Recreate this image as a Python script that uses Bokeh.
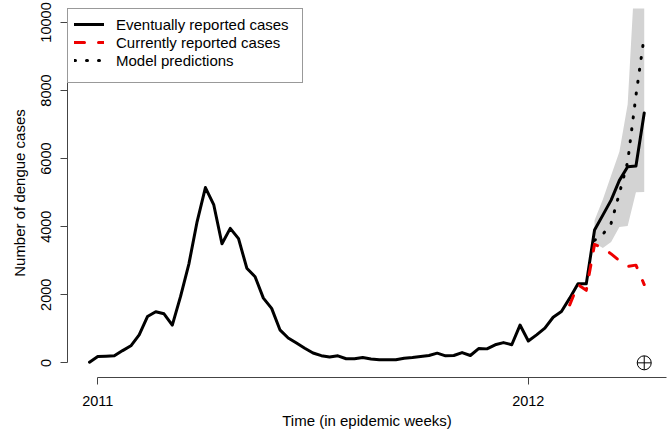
from bokeh.plotting import figure
from bokeh.models import FixedTicker, Legend, LegendItem, Range1d
from bokeh.embed import file_html
from bokeh.resources import INLINE

# ---- data ----
week_index = list(range(68))  # 0 = last week of 2010, 1 = week 1 of 2011, 53 = week 1 of 2012
eventual = [20, 185, 195, 205, 360, 500, 820, 1360, 1500, 1440,
            1110, 1950, 2900, 4150, 5150, 4650, 3500, 3950, 3650, 2780,
            2530, 1900, 1600, 970, 730, 580, 430, 290, 210, 170,
            205, 120, 120, 155, 115, 90, 90, 90, 135, 155,
            185, 215, 285, 205, 215, 300, 215, 420, 410, 530,
            595, 530, 1110, 640, 820, 1020, 1340, 1510, 1900, 2320,
            2320, 3900, 4340, 4780, 5360, 5760, 5780, 7340]

current_weeks = list(range(58, 68))
current = [1700, 2300, 2130, 3480, 3380, 3200, 3000, 2830, 2870, 2300]

pred_weeks = list(range(61, 68))
pred = [3600, 3770, 4100, 4980, 5900, 7850, 9600]
pred_lower = [3520, 3370, 3550, 3990, 4020, 5010, 5020]
pred_upper = [4190, 4800, 5500, 6200, 7600, 12000, 14000]

last_week = [67]
last_week_level = [0]

year_tick_weeks = [1, 53]
year_tick_labels = ["2011", "2012"]
y_ticks = [0, 2000, 4000, 6000, 8000, 10000]

FONT = "Liberation Sans"

p = figure(width=669, height=431, output_backend="svg", toolbar_location=None,
           x_range=Range1d(-2.657, 69.69), y_range=Range1d(-431, 10410),
           min_border_left=67, min_border_right=3, min_border_top=8,
           min_border_bottom=53)
p.outline_line_color = None
p.xgrid.visible = False
p.ygrid.visible = False
p.background_fill_color = "white"
p.border_fill_color = "white"

p.varea(x=pred_weeks, y1=pred_lower, y2=pred_upper,
        fill_color="#d3d3d3", fill_alpha=1.0)

r_event = p.line(week_index, eventual, line_color="black", line_width=3,
                 line_join="round", line_cap="round")
r_curr = p.line(current_weeks, current, line_color="#ee0000", line_width=3,
                line_dash="10 14", line_cap="round", line_join="round")
r_pred = p.line(pred_weeks, pred, line_color="black", line_width=3,
                line_dash="1 11", line_cap="round")
p.scatter(last_week, last_week_level, marker="circle_cross", size=14,
          fill_color=None, line_color="black", line_width=1)

# axes
for ax in (p.xaxis[0], p.yaxis[0]):
    ax.axis_line_color = "#444444"
    ax.axis_line_width = 1
    ax.major_tick_line_color = "#444444"
    ax.major_tick_out = 7
    ax.major_tick_in = 0
    ax.minor_tick_line_color = None
    ax.major_label_text_font = FONT
    ax.major_label_text_font_size = "14.5px"
    ax.major_label_text_color = "black"
    ax.axis_label_text_font = FONT
    ax.axis_label_text_font_size = "15px"
    ax.axis_label_text_font_style = "normal"
    ax.axis_label_text_color = "black"

p.xaxis.ticker = FixedTicker(ticks=year_tick_weeks)
p.xaxis.major_label_overrides = {t: l for t, l in zip(year_tick_weeks, year_tick_labels)}
p.xaxis.bounds = (year_tick_weeks[0], 69.69)
p.xaxis.axis_label = "Time (in epidemic weeks)"
p.xaxis.major_label_standoff = 11
p.xaxis.axis_label_standoff = 3

p.yaxis.ticker = FixedTicker(ticks=y_ticks)
p.yaxis.bounds = (y_ticks[0], y_ticks[-1])
p.yaxis.major_label_orientation = "vertical"
p.yaxis.axis_label = "Number of dengue cases"
p.yaxis.major_label_standoff = 9
p.yaxis.axis_label_standoff = 11

legend = Legend(items=[
    LegendItem(label="Eventually reported cases", renderers=[r_event]),
    LegendItem(label="Currently reported cases", renderers=[r_curr]),
    LegendItem(label="Model predictions", renderers=[r_pred]),
], location="top_left")
legend.margin = 0
legend.padding = 6
legend.spacing = 0
legend.label_height = 18
legend.glyph_height = 18
legend.glyph_width = 30
legend.label_standoff = 12
legend.label_width = 180
legend.title = " "
legend.title_location = "below"
legend.title_text_font_size = "7px"
legend.title_standoff = 0
legend.border_line_color = "#333333"
legend.border_line_width = 1
legend.background_fill_color = "white"
legend.background_fill_alpha = 1.0
legend.label_text_font = FONT
legend.label_text_font_size = "15px"
legend.label_text_color = "black"
p.add_layout(legend)

open("out.html", "w").write(file_html(p, INLINE))
